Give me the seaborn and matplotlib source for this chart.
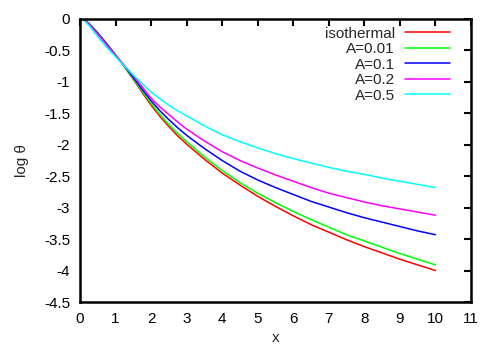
import numpy as np
import pandas as pd
import matplotlib
matplotlib.use("Agg")
import matplotlib.pyplot as plt
from matplotlib.ticker import FormatStrFormatter
import seaborn as sns

# ---- data ----
x_vals = [0, 0.125, 0.25, 0.5, 0.75, 1, 1.25, 1.5, 1.75, 2, 2.25, 2.5, 2.75, 3,
          3.5, 4, 4.5, 5, 5.5, 6, 6.5, 7, 7.5, 8, 8.5, 9, 9.5, 10]
isothermal = [0, -0.02, -0.07, -0.22, -0.39, -0.57, -0.76, -0.96, -1.17, -1.37, -1.55, -1.71, -1.86, -1.99,
              -2.23, -2.45, -2.64, -2.82, -2.98, -3.13, -3.27, -3.39, -3.51, -3.62, -3.72, -3.82, -3.91, -4.00]
a_001 = [0, -0.02, -0.07, -0.22, -0.39, -0.57, -0.76, -0.95, -1.15, -1.34, -1.52, -1.68, -1.82, -1.95,
         -2.19, -2.41, -2.60, -2.77, -2.92, -3.06, -3.19, -3.31, -3.43, -3.53, -3.63, -3.73, -3.82, -3.91]
a_01 = [0, -0.02, -0.075, -0.23, -0.40, -0.58, -0.75, -0.93, -1.12, -1.30, -1.46, -1.60, -1.73, -1.85,
        -2.06, -2.25, -2.42, -2.56, -2.68, -2.79, -2.90, -2.99, -3.08, -3.16, -3.23, -3.30, -3.37, -3.43]
a_02 = [0, -0.02, -0.08, -0.24, -0.41, -0.58, -0.74, -0.90, -1.08, -1.26, -1.40, -1.52, -1.64, -1.75,
        -1.94, -2.11, -2.25, -2.37, -2.48, -2.58, -2.68, -2.77, -2.84, -2.91, -2.97, -3.02, -3.07, -3.12]
a_05 = [0, -0.03, -0.10, -0.28, -0.45, -0.60, -0.75, -0.89, -1.03, -1.16, -1.27, -1.37, -1.46, -1.54,
        -1.70, -1.84, -1.95, -2.05, -2.14, -2.22, -2.29, -2.36, -2.42, -2.47, -2.53, -2.58, -2.63, -2.68]

series_names = ["isothermal", "A=0.01", "A=0.1", "A=0.2", "A=0.5"]
series_values = [isothermal, a_001, a_01, a_02, a_05]
colors = ["#ff0000", "#00ff00", "#0000ff", "#ff00ff", "#00ffff"]

x_ticks = list(range(0, 12))
y_ticks = [0, -0.5, -1, -1.5, -2, -2.5, -3, -3.5, -4, -4.5]

df = pd.DataFrame({
    "x": np.tile(x_vals, len(series_names)),
    "v": np.concatenate(series_values),
    "series": np.repeat(series_names, len(x_vals)),
})

sns.set_style("white")
plt.rcParams["font.family"] = ["Liberation Sans", "DejaVu Sans"]
plt.rcParams["axes.unicode_minus"] = False

fig = plt.figure(figsize=(4.97, 3.49), dpi=100)
ax = fig.add_axes([80 / 497, 1 - 302 / 349, 391 / 497, 283 / 349])

sns.lineplot(data=df, x="x", y="v", hue="series", hue_order=series_names,
             palette=dict(zip(series_names, colors)), linewidth=1.1, ax=ax,
             estimator=None, sort=True)

ax.set_xlim(0, 11)
ax.set_ylim(-4.5, 0)
ax.set_xticks(x_ticks)
ax.set_yticks(y_ticks)
ax.yaxis.set_major_formatter(FormatStrFormatter("%g"))
ax.tick_params(direction="in", length=5, width=1.5, top=True, right=True,
               labelsize=11, colors="black", pad=7)
for s in ax.spines.values():
    s.set_visible(True)
    s.set_linewidth(1.8)
    s.set_color("black")

ax.set_xlabel("x", fontsize=11, labelpad=4)
ax.set_ylabel("log θ", fontsize=11, labelpad=11)

handles, labels = ax.get_legend_handles_labels()
ax.legend(handles, labels, loc="upper right", frameon=False, markerfirst=False,
          fontsize=11, handlelength=2.9, handletextpad=0.7, labelspacing=0.1,
          borderaxespad=0.1, bbox_to_anchor=(0.965, 1.0))

fig.savefig("out.png", dpi=100)
